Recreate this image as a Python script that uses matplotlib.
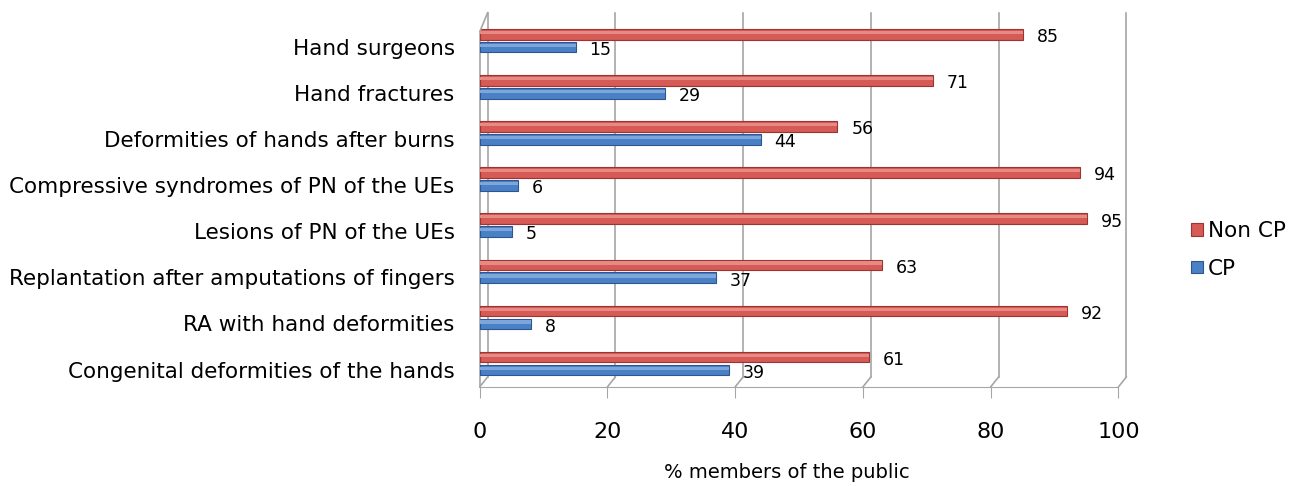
import numpy as np
import matplotlib.pyplot as plt
import matplotlib.transforms as mtransforms

categories = [
    "Hand surgeons",
    "Hand fractures",
    "Deformities of hands after burns",
    "Compressive syndromes of PN of the UEs",
    "Lesions of PN of the UEs",
    "Replantation after amputations of fingers",
    "RA with hand deformities",
    "Congenital deformities of the hands",
]
non_cp = [85, 71, 56, 94, 95, 63, 92, 61]
cp     = [15, 29, 44, 6, 5, 37, 8, 39]
xticks = [0, 20, 40, 60, 80, 100]

RED, RED_EDGE   = "#D65A55", "#9E3430"
BLUE, BLUE_EDGE = "#4A80C6", "#2C5690"
GRID_C = "#A6A6A6"

fig = plt.figure(figsize=(12.93, 4.86), dpi=100)
ax = fig.add_axes([0.371, 0.204, 0.494, 0.761])

y = np.arange(len(categories))
h = 0.23
off = 0.14

ax.barh(y - off, non_cp, height=h, color=RED, edgecolor=RED_EDGE, linewidth=0.8,
        label="Non CP", zorder=3)
ax.barh(y + off, cp, height=h, color=BLUE, edgecolor=BLUE_EDGE, linewidth=0.8,
        label="CP", zorder=3)
# lighter stripe on the upper half for a cylinder look
ax.barh(y - off - 0.04, non_cp, height=h * 0.3, color="#E58A85", linewidth=0, zorder=4)
ax.barh(y + off - 0.04, cp, height=h * 0.3, color="#7FA6DA", linewidth=0, zorder=4)

for yi, v in zip(y, non_cp):
    ax.annotate(str(v), (v, yi - off), xytext=(10, -2), textcoords="offset points",
                ha="left", va="center", fontsize=12.5, zorder=5)
for yi, v in zip(y, cp):
    ax.annotate(str(v), (v, yi + off), xytext=(10, -2), textcoords="offset points",
                ha="left", va="center", fontsize=12.5, zorder=5)

ax.set_xlim(0, 100)
ax.set_ylim(7.505, -0.513)
ax.set_yticks(y)
ax.set_yticklabels(categories, fontsize=15.5)
ax.set_xticks(xticks)
ax.set_xticklabels([str(t) for t in xticks], fontsize=16)
ax.tick_params(axis="y", length=0, pad=18)
ax.tick_params(axis="x", length=8, color=GRID_C, pad=17)
down = mtransforms.ScaledTranslation(0, -6 / 100, fig.dpi_scale_trans)
for lab in ax.get_yticklabels():
    lab.set_transform(lab.get_transform() + down)
ax.set_xlabel("% members of the public", fontsize=14)
ax.xaxis.set_label_coords(0.481, -0.205)

for s in ["top", "right", "left"]:
    ax.spines[s].set_visible(False)
ax.spines["bottom"].set_color(GRID_C)

# pseudo 3D back wall: gridlines shifted back and up
base = mtransforms.blended_transform_factory(ax.transData, ax.transAxes)
shift = mtransforms.ScaledTranslation(8 / 100, 10 / 100, fig.dpi_scale_trans)
trans = base + shift
for t in xticks:
    ax.plot([t, t], [0, 0.985], color=GRID_C, lw=1.2, transform=trans, zorder=1,
            clip_on=False)
    ax.annotate("", xy=(t, 0), xycoords=trans, xytext=(t, 0), textcoords=base,
                arrowprops=dict(arrowstyle="-", color=GRID_C, lw=1.2,
                                shrinkA=0, shrinkB=0))
# left wall
ax.plot([0, 0], [0, 0.96], color=GRID_C, lw=1.2, transform=base, clip_on=False, zorder=1)
ax.annotate("", xy=(0, 0.985), xycoords=trans, xytext=(0, 0.96), textcoords=base,
            arrowprops=dict(arrowstyle="-", color=GRID_C, lw=1.2, shrinkA=0, shrinkB=0))

ax.legend(loc="center left", bbox_to_anchor=(1.083, 0.37), frameon=False, fontsize=15.5,
          handlelength=0.55, handleheight=0.55, handletextpad=0.25, labelspacing=0.8)

fig.savefig("out.png", dpi=100)
